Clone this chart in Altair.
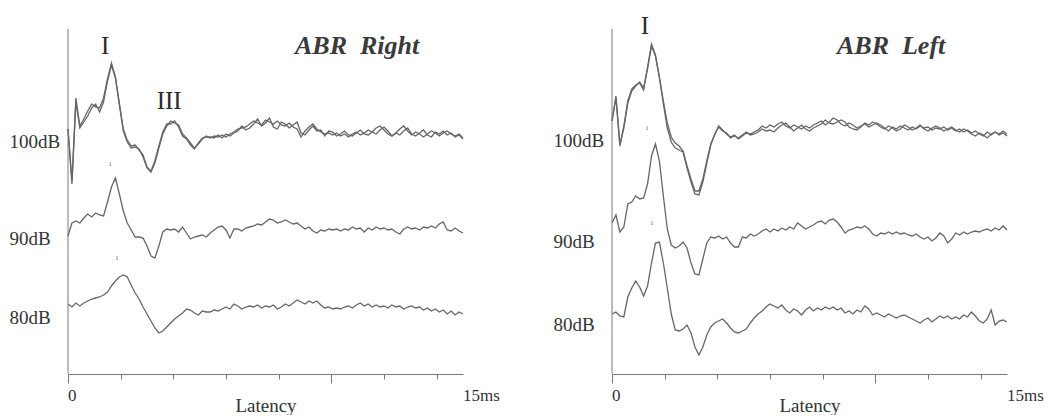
import altair as alt
import pandas as pd

# Sample grid (ms) shared by every trace
latency_ms = [round(0.15 * i, 2) for i in range(101)]

# ---- ABR Right (amplitudes in arbitrary units, trace offsets included) ----
right_100_a = [245, 193, 276, 248, 255, 263, 270, 267, 266, 276, 295, 311, 297, 269, 243, 232, 226, 227, 225, 217,
               206, 202, 211, 226, 240, 248, 253, 251, 249, 240, 236, 231, 226, 230, 235, 238,
               236, 238, 237, 239, 237, 240, 242, 245, 246, 247, 250, 253, 251, 249, 254, 252, 250, 253, 249, 248,
               251, 247, 245, 237, 243, 247, 250, 245, 242, 240, 241,
               239, 241, 238, 240, 237, 240, 242, 239, 241, 244, 242, 246, 248, 244, 240, 238, 241, 245, 248, 243,
               239, 242, 240, 237, 240, 243, 241, 238, 241, 243, 240, 238, 240, 236]
right_100_b = [245, 190, 272, 246, 252, 258, 266, 270, 262, 272, 293, 309, 296, 271, 245, 234, 228, 229, 224, 219,
               207, 203, 213, 228, 242, 250, 250, 253, 247, 238, 235, 229, 225, 231, 236, 237,
               237, 236, 239, 236, 240, 238, 241, 243, 248, 244, 246, 250, 255, 248, 251, 256, 247, 245, 252, 250,
               246, 249, 252, 241, 239, 244, 248, 243, 244, 238, 243,
               242, 238, 240, 243, 239, 238, 241, 244, 240, 239, 242, 240, 244, 247, 243, 238, 241, 239, 243, 246,
               240, 238, 241, 244, 239, 237, 242, 240, 243, 239, 241, 237, 239, 235]
right_90 = [138, 151, 153, 151, 156, 160, 157, 161, 159, 158, 172, 187, 196, 180, 163, 151, 144, 137, 137, 136,
            128, 118, 116, 128, 142, 145, 144, 145, 142, 147, 141, 135, 137, 138, 139, 137,
            141, 144, 147, 148, 144, 136, 145, 145, 143, 146, 147, 148, 150, 149, 152, 155, 154, 151, 152, 154,
            152, 150, 151, 148, 145, 147, 143, 141, 144, 143, 145, 144, 145, 143, 145, 144, 147, 145, 146, 142,
            146, 144, 147, 145, 146, 144, 145, 142, 140, 145, 147, 145, 146, 144, 147, 146, 148, 146, 150, 152,
            144, 143, 146, 143, 141]
right_80 = [70, 67, 71, 68, 71, 73, 75, 76, 77, 79, 82, 88, 93, 97, 99, 97, 89, 81, 75, 67,
            60, 53, 46, 41, 43, 47, 51, 55, 58, 61, 65, 64, 61, 59, 63, 62,
            62, 64, 63, 65, 67, 65, 70, 68, 65, 67, 68, 67, 69, 66, 68, 67, 69, 65, 67, 70,
            68, 71, 74, 72, 70, 73, 71, 73, 69, 66, 67, 65, 66, 65, 67, 68, 66, 69, 71, 68,
            70, 67, 69, 67, 68, 66, 69, 67, 68, 65, 67, 68, 66, 67, 64, 66, 63, 65, 62, 64,
            60, 63, 59, 62, 60]

# ---- ABR Left ----
left_100_a = [253, 278, 228, 248, 273, 285, 289, 291, 284, 307, 330, 319, 297, 273, 251, 237, 231, 228, 223, 208,
              195, 183, 183, 195, 213, 230, 239, 248, 244, 240, 237, 239, 235, 238, 241, 240,
              242, 244, 248, 246, 249, 247, 250, 252, 248, 246, 249, 247, 245, 248, 246, 249, 251, 253, 249, 252,
              256, 254, 250, 248, 251, 249, 246, 248, 250, 247, 249, 251, 249, 246, 243, 247, 245, 248, 246, 244,
              247, 245, 248, 246, 247, 244, 246, 245, 247, 244, 246, 243, 245, 242, 244, 241, 243, 240, 238, 242,
              239, 242, 240, 243, 240]
left_100_b = [253, 276, 230, 246, 271, 283, 288, 292, 286, 305, 328, 318, 296, 270, 246, 232, 226, 224, 222, 206,
              192, 180, 179, 192, 211, 229, 240, 247, 243, 241, 236, 238, 236, 239, 242, 239,
              240, 242, 245, 243, 244, 242, 246, 249, 251, 247, 243, 246, 249, 245, 243, 246, 248, 250, 254, 251,
              250, 252, 254, 252, 247, 245, 244, 247, 251, 249, 252, 250, 247, 245, 248, 246, 243, 245, 249, 247,
              244, 246, 249, 245, 243, 246, 248, 246, 243, 245, 247, 244, 242, 245, 243, 240, 238, 241, 239, 236,
              240, 242, 239, 241, 238]
left_90 = [151, 159, 142, 147, 170, 172, 178, 175, 176, 190, 218, 230, 213, 178, 145, 129, 126, 128, 132, 126,
           111, 100, 99, 115, 131, 137, 136, 138, 135, 137, 131, 127, 127, 137, 136, 140,
           138, 140, 143, 145, 142, 145, 143, 146, 144, 147, 145, 151, 148, 145, 147, 149, 152, 153, 150, 154,
           155, 152, 147, 141, 144, 145, 147, 146, 148, 145, 140, 138, 141, 140, 142, 140, 142, 140, 141, 139,
           138, 140, 137, 135, 137, 133, 136, 141, 138, 131, 135, 141, 139, 142, 140, 142, 143, 142, 144, 145,
           143, 146, 144, 148, 144]
left_80 = [60, 62, 58, 57, 77, 86, 93, 87, 78, 88, 111, 131, 132, 111, 86, 60, 44, 43, 45, 49,
           41, 27, 19, 27, 39, 47, 51, 53, 55, 51, 46, 42, 41, 43, 45, 51,
           56, 60, 63, 67, 70, 68, 66, 69, 64, 61, 65, 63, 59, 64, 67, 63, 66, 64, 67, 65,
           67, 64, 66, 61, 63, 60, 64, 62, 68, 65, 59, 61, 59, 57, 60, 58, 56, 58, 59, 57,
           55, 53, 51, 54, 56, 52, 55, 58, 56, 58, 55, 57, 55, 59, 57, 62, 58, 53, 51, 55,
           64, 49, 53, 54, 52]

level_labels = ["100dB", "90dB", "80dB"]
right_level_pos = [233, 136, 57]
left_level_pos = [234, 133, 50]
x_ticks = list(range(16))
x_end_labels = [("0", 0), ("15ms", 15)]
axis_top = 345
y_max = 360

right_notes = {"title": ("ABR\u00a0\u00a0Right", 10.98, 328),
               "peaks": [("I", 1.41, 328), ("III", 3.84, 273)],
               "marks": [("1", 1.6, 210), ("1", 1.86, 116)]}
left_notes = {"title": ("ABR\u00a0\u00a0Left", 10.6, 328),
              "peaks": [("I", 1.25, 348)],
              "marks": [("1", 1.33, 246), ("1", 1.52, 151)]}

TRACE = "#666666"
AXIS = "#7a7a7a"
TEXT = "#333333"
FONT = "Liberation Serif"


def make_panel(waves, level_pos, notes):
    rows = []
    for name, vals in waves.items():
        for t, v in zip(latency_ms, vals):
            rows.append({"series": name, "latency": t, "amp": v})
    df = pd.DataFrame(rows)

    label_expr = ("datum.value > 200 ? '%s' : datum.value > 100 ? '%s' : '%s'"
                  % tuple(level_labels))
    x = alt.X("latency:Q", title="Latency",
              scale=alt.Scale(domain=[0, 15], nice=False, zero=False),
              axis=alt.Axis(values=x_ticks, grid=False, labels=False,
                            tickSize={"condition": {"test": "datum.value % 5 === 0", "value": 9}, "value": 5},
                            tickColor=AXIS, domainColor=AXIS, tickWidth=1, domainWidth=1,
                            titleFont=FONT, titleFontSize=19, titleFontWeight="normal", titleColor=TEXT,
                            titleY=37, titleBaseline="alphabetic"))
    y = alt.Y("amp:Q", title=None,
              scale=alt.Scale(domain=[0, y_max], nice=False, zero=False),
              axis=alt.Axis(values=level_pos, labelExpr=label_expr, grid=False, ticks=False, domain=False,
                            labelAlign="left", labelBaseline="middle", labelPadding=59,
                            labelFont=FONT, labelFontSize=19, labelColor=TEXT))

    lines = alt.Chart(df).mark_line(color=TRACE, strokeWidth=1.3).encode(
        x=x, y=y, detail="series:N")

    axis_df = pd.DataFrame({"latency": [0], "amp": [0], "amp2": [axis_top]})
    yline = alt.Chart(axis_df).mark_rule(color=AXIS, strokeWidth=1).encode(
        x="latency:Q", y="amp:Q", y2="amp2:Q")

    end_df = pd.DataFrame({"label": [l for l, _ in x_end_labels],
                           "latency": [v for _, v in x_end_labels],
                           "amp": [0, 0]})
    end_labels = alt.Chart(end_df).mark_text(font=FONT, fontSize=17, color=TEXT, align="left",
                                             baseline="middle", dy=22).encode(
        x="latency:Q", y="amp:Q", text="label:N")

    t_text, t_x, t_y = notes["title"]
    title_df = pd.DataFrame({"latency": [t_x], "amp": [t_y], "label": [t_text]})
    title = alt.Chart(title_df).mark_text(font=FONT, fontSize=26, fontStyle="italic", fontWeight="bold",
                                          color="#3a3a3a", baseline="middle", align="center").encode(
        x="latency:Q", y="amp:Q", text="label:N")

    peaks_df = pd.DataFrame(notes["peaks"], columns=["label", "latency", "amp"])
    peaks = alt.Chart(peaks_df).mark_text(font=FONT, fontSize=25, color="#2a2a2a",
                                          baseline="middle", align="center").encode(
        x="latency:Q", y="amp:Q", text="label:N")

    marks_df = pd.DataFrame(notes["marks"], columns=["label", "latency", "amp"])
    marks = alt.Chart(marks_df).mark_text(font=FONT, fontSize=6, color="#555555",
                                          baseline="middle", align="center").encode(
        x="latency:Q", y="amp:Q", text="label:N")

    return alt.layer(lines, yline, end_labels, title, peaks, marks).properties(width=395, height=y_max)


right_panel = make_panel({"r100a": right_100_a, "r100b": right_100_b, "r90": right_90, "r80": right_80},
                         right_level_pos, right_notes)
left_panel = make_panel({"l100a": left_100_a, "l100b": left_100_b, "l90": left_90, "l80": left_80},
                        left_level_pos, left_notes)

chart = alt.hconcat(right_panel, left_panel, spacing=149, bounds="flush").properties(
    padding={"left": 1, "top": 5, "right": 0, "bottom": 0}
).configure_view(strokeWidth=0)

chart.save("out.html", embed_options={"renderer": "svg", "actions": False})
